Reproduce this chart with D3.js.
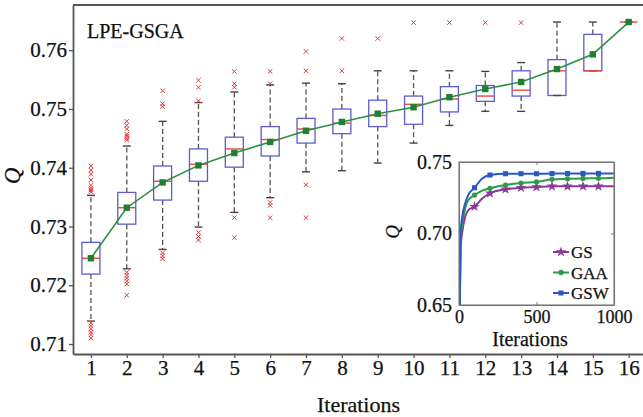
<!DOCTYPE html>
<html><head><meta charset="utf-8">
<script src="https://cdn.jsdelivr.net/npm/d3@7"></script>
<style>
body{margin:0;background:#fff}
svg{display:block}
text{font-family:"Liberation Serif","DejaVu Serif",serif;fill:#111;stroke:#111;stroke-width:0.25px}
</style>
</head><body>
<svg id="c" width="643" height="417"></svg>
<script>
// ---------- main chart data ----------
const iterations = [1,2,3,4,5,6,7,8,9,10,11,12,13,14,15,16];
const q1 = [0.7219,0.7304,0.7345,0.7377,0.7401,0.7420,0.7442,0.7458,0.7470,0.7474,0.7495,0.7513,0.7522,0.7523,0.7565,0.7648];
const medians = [0.7246,0.7332,0.7377,0.7406,0.7432,0.7448,0.7466,0.7476,0.7489,0.7508,0.7517,0.7522,0.7532,0.7565,0.7565,0.7648];
const q3 = [0.7273,0.7358,0.7403,0.7432,0.7452,0.7470,0.7484,0.7500,0.7515,0.7522,0.7538,0.7540,0.7565,0.7584,0.7627,0.7648];
const whiskerLow = [0.7139,0.7228,0.7261,0.7299,0.7324,0.7349,0.7393,0.7395,0.7408,0.7442,0.7472,0.7496,0.7496,0.7523,0.7565,0.7648];
const whiskerHigh = [0.7353,0.7437,0.7479,0.7511,0.7529,0.7541,0.7544,0.7543,0.7565,0.7565,0.7565,0.7564,0.7579,0.7648,0.7648,0.7648];
const means = [0.7246,0.7332,0.7375,0.7404,0.7425,0.7444,0.7463,0.7478,0.7492,0.7503,0.7520,0.7534,0.7546,0.7568,0.7593,0.7648];
const outliers = [
  [0.7403,0.7396,0.7389,0.7379,0.7370,0.7365,0.7362,0.7359,0.7136,0.7131,0.7126,0.7120,0.7116,0.7110],
  [0.7479,0.7472,0.7466,0.7457,0.7454,0.7450,0.7447,0.7222,0.7217,0.7212,0.7207,0.7202,0.7183],
  [0.7531,0.7509,0.7504,0.7255,0.7250,0.7245],
  [0.7549,0.7537,0.7514,0.7290,0.7283,0.7277],
  [0.7564,0.7543,0.7537,0.7315,0.7281],
  [0.7564,0.7543,0.7341,0.7336,0.7315],
  [0.7598,0.7565,0.7371,0.7315],
  [0.7620,0.7565],
  [0.7620],
  [0.7647],
  [0.7647],
  [0.7647],
  [0.7647],
  [],[],[]
];
const yTicks = [0.71,0.72,0.73,0.74,0.75,0.76];

// ---------- inset data ----------
const insetIters = [0,10,20,40,60,100,150,200,300,400,500,600,700,800,900,1000];
const gsValues  = [0.600,0.690,0.700,0.7118,0.7164,0.7188,0.7245,0.7281,0.7309,0.7320,0.7325,0.7330,0.7330,0.7330,0.7330,0.7330];
const gaaValues = [0.600,0.695,0.706,0.7176,0.7234,0.7269,0.7300,0.7316,0.7339,0.7353,0.7360,0.7379,0.7382,0.7385,0.7386,0.7390];
const gswValues = [0.600,0.700,0.711,0.7211,0.7270,0.7320,0.7385,0.7409,0.7418,0.7418,0.7418,0.7419,0.7419,0.7420,0.7420,0.7420];
const insetMarkerIters = [100,200,300,400,500,600,700,800,900];
const insetSeries = ["GS","GAA","GSW"];
const insetXTicks = [0,500,1000];
const insetYTicks = [0.65,0.70,0.75];

// ---------- drawing ----------
const svg = d3.select("#c");
svg.append("rect").attr("width",643).attr("height",417).attr("fill","#fff");

const F = {left:73, top:5, right:646.6, bottom:354};
const x = d3.scaleLinear().domain([0.5,16.5]).range([F.left,F.right]);
const y = d3.scaleLinear().domain([0.7083,0.7677]).range([F.bottom,F.top]);

const axisColor = "#555";
function styleAxis(g, fs){
  g.select(".domain").attr("stroke",axisColor).attr("stroke-width",1.8);
  g.selectAll(".tick line").attr("stroke",axisColor).attr("stroke-width",1.3);
  g.selectAll(".tick text").attr("font-size",fs).attr("fill","#111")
    .attr("font-family",'"Liberation Serif","DejaVu Serif",serif');
}
const gx = svg.append("g").attr("transform",`translate(0,${F.bottom})`)
  .call(d3.axisBottom(x).tickValues(iterations).tickFormat(d3.format("d")).tickSize(4).tickSizeOuter(0).tickPadding(2));
styleAxis(gx,21);
const gy = svg.append("g").attr("transform",`translate(${F.left},0)`)
  .call(d3.axisLeft(y).tickValues(yTicks).tickFormat(d3.format(".2f")).tickSize(4).tickSizeOuter(0).tickPadding(2));
styleAxis(gy,21);
svg.append("path").attr("d",`M${F.left},${F.top}H${F.right}V${F.bottom}`)
  .attr("fill","none").attr("stroke",axisColor).attr("stroke-width",1.8);

// boxes
const bw = 18, cw = 8;
const boxes = svg.append("g");
iterations.forEach((it,i)=>{
  const cx = x(it);
  const g = boxes.append("g");
  g.append("line").attr("x1",cx).attr("x2",cx).attr("y1",y(q3[i])).attr("y2",y(whiskerHigh[i]))
    .attr("stroke","#555").attr("stroke-width",1.3).attr("stroke-dasharray","5,3");
  g.append("line").attr("x1",cx).attr("x2",cx).attr("y1",y(q1[i])).attr("y2",y(whiskerLow[i]))
    .attr("stroke","#555").attr("stroke-width",1.3).attr("stroke-dasharray","5,3");
  g.append("rect").attr("x",cx-bw/2).attr("y",y(q3[i])).attr("width",bw)
    .attr("height",Math.max(0,y(q1[i])-y(q3[i])))
    .attr("fill","none").attr("stroke",i===15?"none":"#5c5ccf").attr("stroke-width",1.3);
  [whiskerHigh[i],whiskerLow[i]].forEach(v=>{
    g.append("line").attr("x1",cx-cw/2).attr("x2",cx+cw/2).attr("y1",y(v)).attr("y2",y(v))
      .attr("stroke","#444").attr("stroke-width",1.4);
  });
  g.append("line").attr("x1",cx-bw/2).attr("x2",cx+bw/2).attr("y1",y(medians[i])).attr("y2",y(medians[i]))
    .attr("stroke","#e34a4a").attr("stroke-width",1.4);
  outliers[i].forEach(v=>{
    const oy = y(v), s = 2.2;
    g.append("path").attr("d",`M${cx-s},${oy-s}L${cx+s},${oy+s}M${cx-s},${oy+s}L${cx+s},${oy-s}`)
      .attr("stroke","#e03a3a").attr("stroke-width",1);
  });
});

// mean line
const meanPts = iterations.map((it,i)=>[x(it),y(means[i])]);
svg.append("path").attr("d",d3.line()(meanPts)).attr("fill","none")
  .attr("stroke","#2f8f40").attr("stroke-width",1.6);
svg.append("g").selectAll("rect").data(meanPts).join("rect")
  .attr("x",d=>d[0]-3.2).attr("y",d=>d[1]-3.2).attr("width",6.4).attr("height",6.4)
  .attr("fill","#1f7f35");

// labels
svg.append("text").attr("x",87).attr("y",38).attr("font-size",20).text("LPE-GSGA");
svg.append("text").attr("x",358.5).attr("y",412).attr("font-size",22).attr("text-anchor","middle").text("Iterations");
svg.append("text").attr("transform","translate(20,176) rotate(-90)").attr("font-size",23)
  .attr("font-style","italic").attr("text-anchor","middle").text("Q");

// ---------- inset ----------
const I = {left:459, top:162, right:614, bottom:305};
const xi = d3.scaleLinear().domain([0,1000]).range([I.left,I.right]);
const yi = d3.scaleLinear().domain([0.65,0.75]).range([I.bottom,I.top]);
svg.append("rect").attr("x",I.left).attr("y",I.top).attr("width",I.right-I.left).attr("height",I.bottom-I.top)
  .attr("fill","#fff");
svg.append("defs").append("clipPath").attr("id","ic").append("rect")
  .attr("x",I.left).attr("y",I.top).attr("width",I.right-I.left).attr("height",I.bottom-I.top);

const insetAxisColor = "#777";
function styleInset(g, fs){
  g.select(".domain").attr("stroke",insetAxisColor).attr("stroke-width",1.1);
  g.selectAll(".tick line").attr("stroke",insetAxisColor).attr("stroke-width",1);
  g.selectAll(".tick text").attr("font-size",fs).attr("fill","#111")
    .attr("font-family",'"Liberation Serif","DejaVu Serif",serif');
}
const ib = svg.append("g").attr("transform",`translate(0,${I.bottom})`)
  .call(d3.axisBottom(xi).tickValues(insetXTicks).tickFormat(d3.format("d")).tickSize(-3).tickSizeOuter(0).tickPadding(5));
styleInset(ib,18);
const it_ = svg.append("g").attr("transform",`translate(0,${I.top})`)
  .call(d3.axisTop(xi).tickValues(insetXTicks).tickFormat("").tickSize(-3).tickSizeOuter(0));
styleInset(it_,18);
const il = svg.append("g").attr("transform",`translate(${I.left},0)`)
  .call(d3.axisLeft(yi).tickValues(insetYTicks).tickFormat(d3.format(".2f")).tickSize(-3).tickSizeOuter(0).tickPadding(7));
styleInset(il,20);
const ir = svg.append("g").attr("transform",`translate(${I.right},0)`)
  .call(d3.axisRight(yi).tickValues(insetYTicks).tickFormat("").tickSize(-3).tickSizeOuter(0));
styleInset(ir,20);

const seriesVals = {GS:gsValues, GAA:gaaValues, GSW:gswValues};
const seriesColor = {GS:"#8a3a98", GAA:"#2f9a4c", GSW:"#2a58c4"};
const seriesSym = {GS:d3.symbolStar, GAA:d3.symbolCircle, GSW:d3.symbolSquare};
const seriesSymSize = {GS:34, GAA:22, GSW:26};
const lineGen = d3.line().x(d=>xi(d[0])).y(d=>yi(d[1])).curve(d3.curveMonotoneX);
const valueAt = (vals, t) => vals[insetIters.indexOf(t)];
const plotG = svg.append("g").attr("clip-path","url(#ic)");
insetSeries.forEach(name=>{
  const vals = seriesVals[name];
  const pts = insetIters.map((t,j)=>[t,vals[j]]);
  plotG.append("path").attr("d",lineGen(pts)).attr("fill","none")
    .attr("stroke",seriesColor[name]).attr("stroke-width",2);
  insetMarkerIters.forEach(t=>{
    plotG.append("path").attr("d",d3.symbol().type(seriesSym[name]).size(seriesSymSize[name])())
      .attr("transform",`translate(${xi(t)},${yi(valueAt(vals,t))})`)
      .attr("fill",seriesColor[name]);
  });
});

// legend
insetSeries.forEach((name,k)=>{
  const ly = 252 + k*20.5;
  svg.append("line").attr("x1",553).attr("x2",569).attr("y1",ly).attr("y2",ly)
    .attr("stroke",seriesColor[name]).attr("stroke-width",2);
  svg.append("path").attr("d",d3.symbol().type(seriesSym[name]).size(seriesSymSize[name])())
    .attr("transform",`translate(561,${ly})`).attr("fill",seriesColor[name]);
  svg.append("text").attr("x",571).attr("y",ly+6).attr("font-size",17).text(name);
});

svg.append("rect").attr("x",I.left).attr("y",I.top).attr("width",I.right-I.left).attr("height",I.bottom-I.top)
  .attr("fill","none").attr("stroke",insetAxisColor).attr("stroke-width",1.1);

svg.append("text").attr("x",530).attr("y",346).attr("font-size",20).attr("text-anchor","middle").text("Iterations");
svg.append("text").attr("transform","translate(399,232) rotate(-90)").attr("font-size",19)
  .attr("font-style","italic").attr("text-anchor","middle").text("Q");
</script>
</body></html>
